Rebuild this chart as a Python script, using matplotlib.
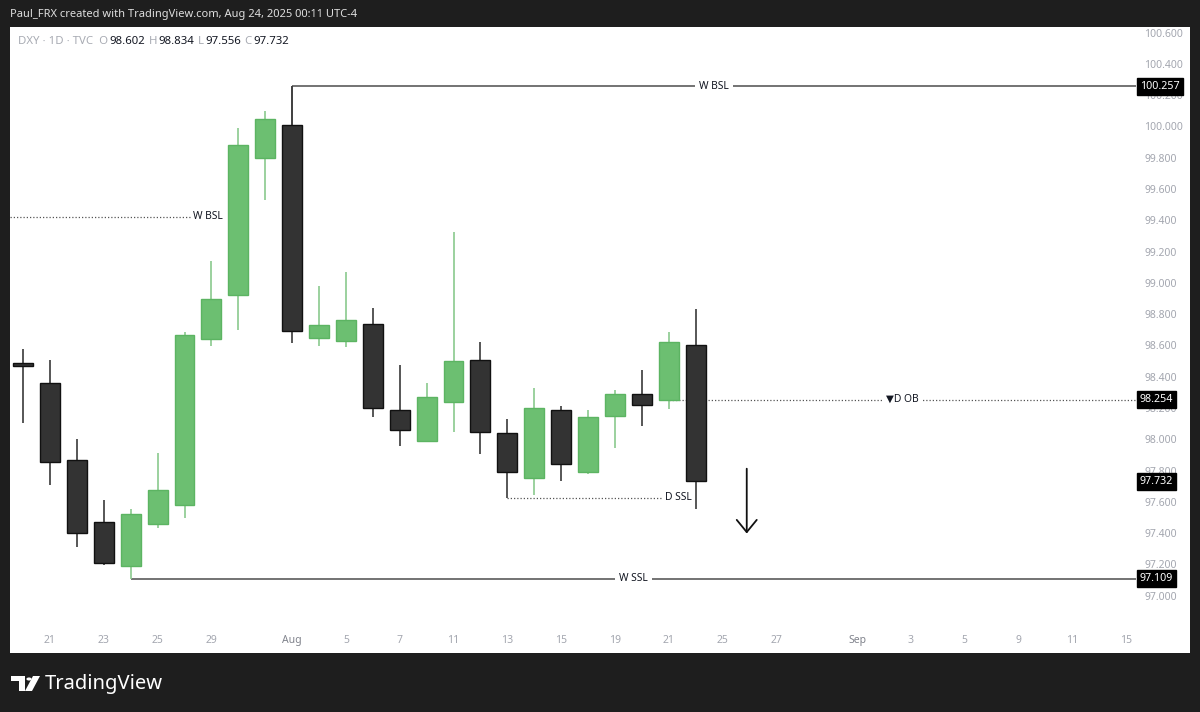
import numpy as np
import pandas as pd
import matplotlib
matplotlib.use("Agg")
import matplotlib.pyplot as plt
from matplotlib.patches import Rectangle, Polygon, Circle
from matplotlib.transforms import blended_transform_factory

plt.rcParams["font.family"] = ["Noto Sans", "DejaVu Sans"]

# DXY daily candles, 18 Jul -> 22 Aug 2025
dates = pd.bdate_range("2025-07-18", "2025-09-15")
opens = [98.49, 98.357, 97.87, 97.47, 97.19, 97.456, 97.58, 98.64, 98.92, 99.80,
         100.01, 98.65, 98.63, 98.74, 98.19, 97.99, 98.24, 98.51, 98.04, 97.75,
         98.19, 97.79, 98.15, 98.29, 98.254, 98.602]
highs = [98.578, 98.51, 98.00, 97.61, 97.557, 97.91, 98.684, 99.14, 99.99, 100.10,
         100.257, 98.98, 99.07, 98.84, 98.478, 98.357, 99.325, 98.62, 98.133, 98.325,
         98.216, 98.186, 98.318, 98.442, 98.687, 98.834]
lows = [98.106, 97.705, 97.314, 97.196, 97.109, 97.435, 97.499, 98.595, 98.702, 99.527,
        98.616, 98.595, 98.591, 98.14, 97.955, 97.98, 98.045, 97.908, 97.627, 97.642,
        97.733, 97.78, 97.944, 98.084, 98.191, 97.556]
closes = [98.47, 97.854, 97.40, 97.21, 97.52, 97.678, 98.67, 98.90, 99.88, 100.05,
          98.69, 98.73, 98.76, 98.20, 98.06, 98.27, 98.50, 98.05, 97.79, 98.20,
          97.84, 98.14, 98.29, 98.22, 98.62, 97.732]

tick_dates = ["2025-07-21", "2025-07-23", "2025-07-25", "2025-07-29", "2025-08-01",
              "2025-08-05", "2025-08-07", "2025-08-11", "2025-08-13", "2025-08-15",
              "2025-08-19", "2025-08-21", "2025-08-25", "2025-08-27", "2025-09-01",
              "2025-09-03", "2025-09-05", "2025-09-09", "2025-09-11", "2025-09-15"]

# drawn levels: price, label, start bar, end bar (None = chart edge), solid?
level_prices = [100.257, 99.423, 98.254, 97.627, 97.109]
level_names = ["W BSL", "W BSL", "\u25bcD OB", "D SSL", "W SSL"]
level_x0 = [10, None, 24, 18, 4]
level_x1 = [None, 6.2, None, 23.75, None]
level_solid = [True, False, False, False, True]

arrow_x = 26.9
arrow_from = 97.83
arrow_to = 97.38

W, H = 1200, 712
DARK = "#1e1e1e"
GREEN = "#6cbf71"
GREEN_EDGE = "#5cb462"
BLACK_C = "#333333"
TEXT = "#131722"
GRAY = "#a3a6af"


def fx(x):
    return x / W


def fy(y):
    return 1 - y / H


fig = plt.figure(figsize=(12, 7.12), dpi=100, facecolor=DARK)
fig.patches.append(Rectangle((fx(10), fy(653)), fx(1180), 626 / H,
                             transform=fig.transFigure, fc="white", ec="none", zorder=-5))

ax = fig.add_axes([fx(10), fy(625), fx(1126), 598 / H])
ax.set_facecolor("white")
ax.set_zorder(2)
for s in ax.spines.values():
    s.set_visible(False)

x = np.arange(len(opens))
o = np.array(opens)
c = np.array(closes)
up = c >= o

# wicks
ax.vlines(x[up], np.array(lows)[up], np.array(highs)[up], color="#8ac98e", lw=1.2, zorder=2)
ax.vlines(x[~up], np.array(lows)[~up], np.array(highs)[~up], color="#3a3a3a", lw=1.2, zorder=2)
# bodies
ax.bar(x[up], (c - o)[up], bottom=o[up], width=0.74, color=GREEN, edgecolor=GREEN_EDGE,
       lw=1, zorder=3)
ax.bar(x[~up], (o - c)[~up], bottom=c[~up], width=0.74, color=BLACK_C, edgecolor="#111111",
       lw=1, zorder=3)

xmin, xmax = -0.487, 41.37
ax.set_xlim(xmin, xmax)
ax.set_ylim(96.813, 100.636)

# levels
for p, name, x0, x1, solid in zip(level_prices, level_names, level_x0, level_x1, level_solid):
    a = xmin if x0 is None else x0
    b = xmax if x1 is None else x1
    if solid:
        ax.hlines(p, a, b, color="#4d4d4d", lw=1.1, zorder=1)
    else:
        ax.hlines(p, a, b, color="#555555", lw=0.9, linestyles=(0, (1, 1.6)), zorder=1)
    if x1 is None:
        ax.text((a + b) / 2, p, name, ha="center", va="center", fontsize=7.4, color=TEXT,
                bbox=dict(fc="white", ec="none", pad=3), zorder=4)
    else:
        ax.text(b + 0.12, p, name, ha="left", va="center", fontsize=7.4, color=TEXT,
                bbox=dict(fc="white", ec="none", pad=1), zorder=4)
    if x0 == 10:
        # connector from the Aug 1 high up to the level
        ax.vlines(x0, opens[x0], p, color="#4d4d4d", lw=1.1, zorder=1)

ax.annotate("", xy=(arrow_x, arrow_to), xytext=(arrow_x, arrow_from),
            arrowprops=dict(arrowstyle="->, head_length=0.55, head_width=0.45",
                            mutation_scale=16, color="#111111", lw=1.3))

# price scale
ax.yaxis.tick_right()
yt = np.round(np.arange(97.0, 100.61, 0.2), 3)
ax.set_yticks(yt)
ax.set_yticklabels([f"{v:.3f}" for v in yt])
ax.tick_params(axis="y", length=0, pad=6, labelsize=7.5, labelcolor=GRAY)

tr = blended_transform_factory(ax.transAxes, ax.transData)
for p in [level_prices[0], level_prices[2], closes[-1], level_prices[4]]:
    ax.text(1.0035, p, f"{p:.3f}", transform=tr, ha="left", va="center", fontsize=7.7,
            color="white", fontweight="bold", clip_on=False, zorder=6,
            bbox=dict(fc="black", ec="black", pad=2.2))

# time scale
pos = [dates.get_loc(pd.Timestamp(d)) for d in tick_dates]
labs = [pd.Timestamp(d).strftime("%b") if pd.Timestamp(d).day == 1 else str(pd.Timestamp(d).day)
        for d in tick_dates]
ax.set_xticks(pos)
ax.set_xticklabels(labs)
ax.tick_params(axis="x", length=0, pad=7.5, labelsize=7.5, labelcolor=GRAY)
for t in ax.get_xticklabels():
    if not t.get_text().isdigit():
        t.set_color("#80838c")
        t.set_fontweight("bold")

# header
fig.text(fx(10), fy(15), "Paul_FRX created with TradingView.com, Aug 24, 2025 00:11 UTC-4",
         color="#dedede", fontsize=8, va="center", ha="left")

renderer = fig.canvas.get_renderer()
parts = [("DXY \u00b7 1D \u00b7 TVC  O", "#a8abb3"), (f"{opens[-1]:.3f}", TEXT),
         (" H", "#a8abb3"), (f"{highs[-1]:.3f}", TEXT),
         (" L", "#a8abb3"), (f"{lows[-1]:.3f}", TEXT),
         (" C", "#a8abb3"), (f"{closes[-1]:.3f}", TEXT)]
xp = fx(18)
for s, col in parts:
    t = fig.text(xp, fy(42), s, color=col, fontsize=8.2, va="center", ha="left", zorder=5)
    bb = t.get_window_extent(renderer)
    xp = bb.x1 / fig.bbox.width + 0.0008

# TradingView logo
logo = "white"
fig.patches.append(Polygon([(fx(11), fy(676)), (fx(25), fy(676)), (fx(25), fy(691)),
                            (fx(19), fy(691)), (fx(19), fy(681)), (fx(11), fy(681))],
                           closed=True, transform=fig.transFigure, fc=logo, ec="none"))
fig.patches.append(Circle((fx(29), fy(679)), 2.6 / W, transform=fig.transFigure,
                          fc=logo, ec="none"))
fig.patches.append(Polygon([(fx(33), fy(676)), (fx(40), fy(676)), (fx(32), fy(691)),
                            (fx(25), fy(691))],
                           closed=True, transform=fig.transFigure, fc=logo, ec="none"))
fig.text(fx(45), fy(684), "TradingView", color="white", fontsize=14.5, fontweight="bold",
         va="center", ha="left")

fig.savefig("out.png", dpi=100, facecolor=fig.get_facecolor())
plt.close(fig)
